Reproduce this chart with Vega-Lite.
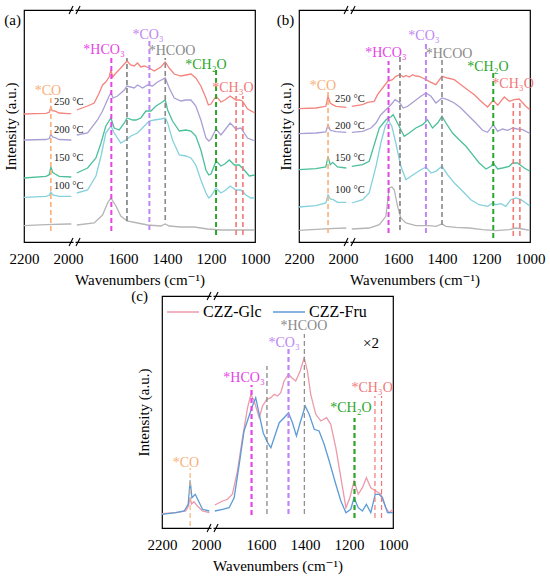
{
  "$schema": "https://vega.github.io/schema/vega-lite/v6.json",
  "background": "white",
  "padding": {"left": 2, "top": 4, "right": 5, "bottom": 2},
  "config": {
    "font": "Liberation Serif, Times New Roman, DejaVu Serif, serif",
    "view": {"stroke": "black", "strokeWidth": 1.2},
    "axisX": {"format": "d", "labelFont": "Liberation Serif, Times New Roman, DejaVu Serif, serif", "titleFont": "Liberation Serif, Times New Roman, DejaVu Serif, serif", "labelFontSize": 15, "labelColor": "black", "labelFlush": false, "labelOverlap": false, "ticks": false, "tickSize": 0, "domain": false, "grid": false, "labelPadding": 9, "titleFontSize": 15, "titleFontWeight": "normal", "titleColor": "black", "titlePadding": 6},
    "axisY": {"labels": false, "titleFont": "Liberation Serif, Times New Roman, DejaVu Serif, serif", "ticks": false, "tickSize": 0, "domain": false, "grid": false, "titleFontSize": 15, "titleFontWeight": "normal", "titleColor": "black", "titlePadding": 6},
    "text": {"font": "Liberation Serif, Times New Roman, DejaVu Serif, serif"},
    "legend": {"labelFont": "Liberation Serif, Times New Roman, DejaVu Serif, serif"}
  },
  "datasets": {
    "a": [
      {"s":"250","g":"L","x":2200,"y":128},{"s":"250","g":"L","x":2150,"y":128.3},{"s":"250","g":"L","x":2100,"y":128.7},{"s":"250","g":"L","x":2085,"y":129.7},{"s":"250","g":"L","x":2078,"y":135},{"s":"250","g":"L","x":2072,"y":131.3},{"s":"250","g":"L","x":2060,"y":131},{"s":"250","g":"L","x":2040,"y":129},{"s":"250","g":"L","x":2000,"y":128.3},{"s":"250","g":"L","x":1985,"y":128.3},
      {"s":"250","g":"R","x":1810,"y":132},{"s":"250","g":"R","x":1761,"y":136},{"s":"250","g":"R","x":1731,"y":139},{"s":"250","g":"R","x":1708,"y":149},{"s":"250","g":"R","x":1693,"y":157},{"s":"250","g":"R","x":1678,"y":160},{"s":"250","g":"R","x":1663,"y":165},{"s":"250","g":"R","x":1655,"y":172},{"s":"250","g":"R","x":1647,"y":165},{"s":"250","g":"R","x":1632,"y":169},{"s":"250","g":"R","x":1610,"y":174},{"s":"250","g":"R","x":1582,"y":181},{"s":"250","g":"R","x":1565,"y":177},{"s":"250","g":"R","x":1549,"y":176},{"s":"250","g":"R","x":1534,"y":179},{"s":"250","g":"R","x":1519,"y":175},{"s":"250","g":"R","x":1503,"y":176},{"s":"250","g":"R","x":1481,"y":174},{"s":"250","g":"R","x":1458,"y":171},{"s":"250","g":"R","x":1428,"y":175},{"s":"250","g":"R","x":1408,"y":180},{"s":"250","g":"R","x":1390,"y":174},{"s":"250","g":"R","x":1367,"y":168},{"s":"250","g":"R","x":1337,"y":166},{"s":"250","g":"R","x":1314,"y":167},{"s":"250","g":"R","x":1291,"y":168},{"s":"250","g":"R","x":1269,"y":164},{"s":"250","g":"R","x":1246,"y":156},{"s":"250","g":"R","x":1223,"y":144},{"s":"250","g":"R","x":1212,"y":137},{"s":"250","g":"R","x":1200,"y":138},{"s":"250","g":"R","x":1177,"y":146},{"s":"250","g":"R","x":1155,"y":140},{"s":"250","g":"R","x":1137,"y":142},{"s":"250","g":"R","x":1113,"y":146},{"s":"250","g":"R","x":1087,"y":142},{"s":"250","g":"R","x":1072,"y":142},{"s":"250","g":"R","x":1057,"y":141},{"s":"250","g":"R","x":1034,"y":133},{"s":"250","g":"R","x":1000,"y":129},
      {"s":"200","g":"L","x":2200,"y":102},{"s":"200","g":"L","x":2100,"y":102.5},{"s":"200","g":"L","x":2085,"y":103.5},{"s":"200","g":"L","x":2078,"y":108},{"s":"200","g":"L","x":2070,"y":105},{"s":"200","g":"L","x":2060,"y":104.5},{"s":"200","g":"L","x":2040,"y":102.5},{"s":"200","g":"L","x":1985,"y":102},
      {"s":"200","g":"R","x":1810,"y":107},{"s":"200","g":"R","x":1761,"y":109},{"s":"200","g":"R","x":1716,"y":122},{"s":"200","g":"R","x":1693,"y":131},{"s":"200","g":"R","x":1663,"y":146},{"s":"200","g":"R","x":1655,"y":149},{"s":"200","g":"R","x":1645,"y":144},{"s":"200","g":"R","x":1625,"y":146},{"s":"200","g":"R","x":1594,"y":152},{"s":"200","g":"R","x":1582,"y":156},{"s":"200","g":"R","x":1549,"y":154},{"s":"200","g":"R","x":1534,"y":157},{"s":"200","g":"R","x":1511,"y":154},{"s":"200","g":"R","x":1488,"y":157},{"s":"200","g":"R","x":1466,"y":156},{"s":"200","g":"R","x":1443,"y":160},{"s":"200","g":"R","x":1408,"y":164},{"s":"200","g":"R","x":1390,"y":154},{"s":"200","g":"R","x":1367,"y":144},{"s":"200","g":"R","x":1337,"y":141},{"s":"200","g":"R","x":1314,"y":142},{"s":"200","g":"R","x":1291,"y":142},{"s":"200","g":"R","x":1269,"y":136},{"s":"200","g":"R","x":1246,"y":122},{"s":"200","g":"R","x":1223,"y":104},{"s":"200","g":"R","x":1210,"y":101},{"s":"200","g":"R","x":1200,"y":103},{"s":"200","g":"R","x":1177,"y":113},{"s":"200","g":"R","x":1155,"y":107},{"s":"200","g":"R","x":1137,"y":112},{"s":"200","g":"R","x":1113,"y":119},{"s":"200","g":"R","x":1087,"y":113},{"s":"200","g":"R","x":1064,"y":114},{"s":"200","g":"R","x":1034,"y":104},{"s":"200","g":"R","x":1000,"y":101},
      {"s":"150","g":"L","x":2200,"y":64},{"s":"150","g":"L","x":2100,"y":65.7},{"s":"150","g":"L","x":2085,"y":67.3},{"s":"150","g":"L","x":2078,"y":75},{"s":"150","g":"L","x":2070,"y":69.7},{"s":"150","g":"L","x":2060,"y":68.3},{"s":"150","g":"L","x":2040,"y":65.7},{"s":"150","g":"L","x":1985,"y":65},
      {"s":"150","g":"R","x":1810,"y":69},{"s":"150","g":"R","x":1761,"y":74},{"s":"150","g":"R","x":1723,"y":84},{"s":"150","g":"R","x":1700,"y":99},{"s":"150","g":"R","x":1678,"y":116},{"s":"150","g":"R","x":1655,"y":124},{"s":"150","g":"R","x":1640,"y":114},{"s":"150","g":"R","x":1617,"y":112},{"s":"150","g":"R","x":1594,"y":119},{"s":"150","g":"R","x":1582,"y":124},{"s":"150","g":"R","x":1556,"y":122},{"s":"150","g":"R","x":1541,"y":122},{"s":"150","g":"R","x":1519,"y":124},{"s":"150","g":"R","x":1496,"y":131},{"s":"150","g":"R","x":1473,"y":131},{"s":"150","g":"R","x":1450,"y":136},{"s":"150","g":"R","x":1428,"y":139},{"s":"150","g":"R","x":1408,"y":142},{"s":"150","g":"R","x":1397,"y":132},{"s":"150","g":"R","x":1375,"y":121},{"s":"150","g":"R","x":1344,"y":111},{"s":"150","g":"R","x":1314,"y":112},{"s":"150","g":"R","x":1291,"y":111},{"s":"150","g":"R","x":1269,"y":106},{"s":"150","g":"R","x":1246,"y":92},{"s":"150","g":"R","x":1223,"y":72},{"s":"150","g":"R","x":1210,"y":67},{"s":"150","g":"R","x":1200,"y":68},{"s":"150","g":"R","x":1177,"y":81},{"s":"150","g":"R","x":1155,"y":76},{"s":"150","g":"R","x":1137,"y":78},{"s":"150","g":"R","x":1117,"y":82},{"s":"150","g":"R","x":1094,"y":77},{"s":"150","g":"R","x":1072,"y":77},{"s":"150","g":"R","x":1049,"y":72},{"s":"150","g":"R","x":1026,"y":66},{"s":"150","g":"R","x":1000,"y":67},
      {"s":"100","g":"L","x":2200,"y":44.7},{"s":"100","g":"L","x":2100,"y":45.7},{"s":"100","g":"L","x":2085,"y":46.7},{"s":"100","g":"L","x":2078,"y":50},{"s":"100","g":"L","x":2070,"y":47.3},{"s":"100","g":"L","x":2060,"y":46.7},{"s":"100","g":"L","x":2040,"y":45.7},{"s":"100","g":"L","x":1985,"y":45.7},
      {"s":"100","g":"R","x":1810,"y":49},{"s":"100","g":"R","x":1761,"y":52},{"s":"100","g":"R","x":1723,"y":66},{"s":"100","g":"R","x":1700,"y":86},{"s":"100","g":"R","x":1678,"y":109},{"s":"100","g":"R","x":1655,"y":116},{"s":"100","g":"R","x":1640,"y":109},{"s":"100","g":"R","x":1610,"y":99},{"s":"100","g":"R","x":1587,"y":102},{"s":"100","g":"R","x":1564,"y":106},{"s":"100","g":"R","x":1534,"y":109},{"s":"100","g":"R","x":1503,"y":116},{"s":"100","g":"R","x":1481,"y":121},{"s":"100","g":"R","x":1458,"y":122},{"s":"100","g":"R","x":1428,"y":123},{"s":"100","g":"R","x":1408,"y":124},{"s":"100","g":"R","x":1397,"y":119},{"s":"100","g":"R","x":1375,"y":102},{"s":"100","g":"R","x":1344,"y":87},{"s":"100","g":"R","x":1314,"y":86},{"s":"100","g":"R","x":1291,"y":84},{"s":"100","g":"R","x":1269,"y":77},{"s":"100","g":"R","x":1246,"y":62},{"s":"100","g":"R","x":1223,"y":49},{"s":"100","g":"R","x":1210,"y":44},{"s":"100","g":"R","x":1200,"y":46},{"s":"100","g":"R","x":1177,"y":54},{"s":"100","g":"R","x":1155,"y":49},{"s":"100","g":"R","x":1132,"y":52},{"s":"100","g":"R","x":1113,"y":56},{"s":"100","g":"R","x":1087,"y":52},{"s":"100","g":"R","x":1064,"y":52},{"s":"100","g":"R","x":1041,"y":47},{"s":"100","g":"R","x":1019,"y":44},{"s":"100","g":"R","x":1000,"y":44},
      {"s":"0","g":"L","x":2200,"y":16.3},{"s":"0","g":"L","x":2100,"y":17.3},{"s":"0","g":"L","x":2000,"y":18},{"s":"0","g":"L","x":1985,"y":18},
      {"s":"0","g":"R","x":1810,"y":17},{"s":"0","g":"R","x":1731,"y":19},{"s":"0","g":"R","x":1693,"y":27},{"s":"0","g":"R","x":1670,"y":39},{"s":"0","g":"R","x":1655,"y":44},{"s":"0","g":"R","x":1632,"y":36},{"s":"0","g":"R","x":1610,"y":26},{"s":"0","g":"R","x":1582,"y":21},{"s":"0","g":"R","x":1534,"y":19},{"s":"0","g":"R","x":1488,"y":17},{"s":"0","g":"R","x":1428,"y":16},{"s":"0","g":"R","x":1408,"y":18},{"s":"0","g":"R","x":1390,"y":16},{"s":"0","g":"R","x":1337,"y":15},{"s":"0","g":"R","x":1276,"y":15},{"s":"0","g":"R","x":1216,"y":13},{"s":"0","g":"R","x":1155,"y":12},{"s":"0","g":"R","x":1094,"y":12},{"s":"0","g":"R","x":1034,"y":12},{"s":"0","g":"R","x":1000,"y":12}
    ],
    "b": [
      {"s":"250","g":"L","x":2200,"y":133.3},{"s":"250","g":"L","x":2123,"y":134},{"s":"250","g":"L","x":2078,"y":135.7},{"s":"250","g":"L","x":2068,"y":145.7},{"s":"250","g":"L","x":2058,"y":139},{"s":"250","g":"L","x":2047,"y":137.3},{"s":"250","g":"L","x":2032,"y":135.7},{"s":"250","g":"L","x":1985,"y":134.7},
      {"s":"250","g":"R","x":1810,"y":135.7},{"s":"250","g":"R","x":1761,"y":137.3},{"s":"250","g":"R","x":1738,"y":139.7},{"s":"250","g":"R","x":1708,"y":140.7},{"s":"250","g":"R","x":1693,"y":147.3},{"s":"250","g":"R","x":1670,"y":154},{"s":"250","g":"R","x":1647,"y":160.7},{"s":"250","g":"R","x":1625,"y":162.3},{"s":"250","g":"R","x":1610,"y":165.7},{"s":"250","g":"R","x":1591,"y":167.3},{"s":"250","g":"R","x":1575,"y":165},{"s":"250","g":"R","x":1564,"y":166.5},{"s":"250","g":"R","x":1549,"y":165},{"s":"250","g":"R","x":1534,"y":167.3},{"s":"250","g":"R","x":1519,"y":166},{"s":"250","g":"R","x":1503,"y":165.7},{"s":"250","g":"R","x":1488,"y":164},{"s":"250","g":"R","x":1473,"y":162.3},{"s":"250","g":"R","x":1450,"y":159.7},{"s":"250","g":"R","x":1428,"y":157.3},{"s":"250","g":"R","x":1400,"y":165.7},{"s":"250","g":"R","x":1375,"y":164},{"s":"250","g":"R","x":1344,"y":162.3},{"s":"250","g":"R","x":1314,"y":157.3},{"s":"250","g":"R","x":1284,"y":152.3},{"s":"250","g":"R","x":1253,"y":147.3},{"s":"250","g":"R","x":1223,"y":140.7},{"s":"250","g":"R","x":1193,"y":135},{"s":"250","g":"R","x":1167,"y":141.7},{"s":"250","g":"R","x":1147,"y":136.7},{"s":"250","g":"R","x":1117,"y":145},{"s":"250","g":"R","x":1094,"y":140.7},{"s":"250","g":"R","x":1072,"y":142.3},{"s":"250","g":"R","x":1049,"y":143},{"s":"250","g":"R","x":1019,"y":135.7},{"s":"250","g":"R","x":1000,"y":132.3},
      {"s":"200","g":"L","x":2200,"y":108.3},{"s":"200","g":"L","x":2123,"y":109},{"s":"200","g":"L","x":2078,"y":110},{"s":"200","g":"L","x":2068,"y":117.3},{"s":"200","g":"L","x":2058,"y":111.7},{"s":"200","g":"L","x":2032,"y":110.3},{"s":"200","g":"L","x":1985,"y":109.7},
      {"s":"200","g":"R","x":1810,"y":109.7},{"s":"200","g":"R","x":1761,"y":110.7},{"s":"200","g":"R","x":1723,"y":114},{"s":"200","g":"R","x":1700,"y":119},{"s":"200","g":"R","x":1678,"y":127.3},{"s":"200","g":"R","x":1655,"y":132.3},{"s":"200","g":"R","x":1632,"y":137.3},{"s":"200","g":"R","x":1613,"y":142.3},{"s":"200","g":"R","x":1594,"y":139.7},{"s":"200","g":"R","x":1576,"y":134},{"s":"200","g":"R","x":1556,"y":135.7},{"s":"200","g":"R","x":1526,"y":140.7},{"s":"200","g":"R","x":1496,"y":145.7},{"s":"200","g":"R","x":1473,"y":149},{"s":"200","g":"R","x":1450,"y":145.7},{"s":"200","g":"R","x":1428,"y":139},{"s":"200","g":"R","x":1400,"y":144},{"s":"200","g":"R","x":1375,"y":142.3},{"s":"200","g":"R","x":1344,"y":139},{"s":"200","g":"R","x":1314,"y":134},{"s":"200","g":"R","x":1284,"y":127.3},{"s":"200","g":"R","x":1246,"y":119},{"s":"200","g":"R","x":1216,"y":111.7},{"s":"200","g":"R","x":1193,"y":109.7},{"s":"200","g":"R","x":1167,"y":117.3},{"s":"200","g":"R","x":1147,"y":110.7},{"s":"200","g":"R","x":1125,"y":113},{"s":"200","g":"R","x":1102,"y":111.7},{"s":"200","g":"R","x":1079,"y":114},{"s":"200","g":"R","x":1057,"y":113},{"s":"200","g":"R","x":1034,"y":112.3},{"s":"200","g":"R","x":1004,"y":109},{"s":"200","g":"R","x":1000,"y":108.3},
      {"s":"150","g":"L","x":2200,"y":72.3},{"s":"150","g":"L","x":2123,"y":73.3},{"s":"150","g":"L","x":2078,"y":75},{"s":"150","g":"L","x":2068,"y":85.7},{"s":"150","g":"L","x":2058,"y":77.3},{"s":"150","g":"L","x":2047,"y":79.7},{"s":"150","g":"L","x":2025,"y":75},{"s":"150","g":"L","x":1985,"y":74},
      {"s":"150","g":"R","x":1810,"y":75.7},{"s":"150","g":"R","x":1761,"y":77.3},{"s":"150","g":"R","x":1731,"y":80.7},{"s":"150","g":"R","x":1708,"y":97.3},{"s":"150","g":"R","x":1685,"y":114},{"s":"150","g":"R","x":1667,"y":119},{"s":"150","g":"R","x":1647,"y":124},{"s":"150","g":"R","x":1632,"y":125},{"s":"150","g":"R","x":1622,"y":127.3},{"s":"150","g":"R","x":1610,"y":122.3},{"s":"150","g":"R","x":1591,"y":114},{"s":"150","g":"R","x":1572,"y":105.7},{"s":"150","g":"R","x":1549,"y":109},{"s":"150","g":"R","x":1519,"y":114},{"s":"150","g":"R","x":1488,"y":117.3},{"s":"150","g":"R","x":1466,"y":122.3},{"s":"150","g":"R","x":1443,"y":114},{"s":"150","g":"R","x":1420,"y":119},{"s":"150","g":"R","x":1400,"y":125.7},{"s":"150","g":"R","x":1382,"y":119},{"s":"150","g":"R","x":1352,"y":109},{"s":"150","g":"R","x":1322,"y":102.3},{"s":"150","g":"R","x":1291,"y":95.7},{"s":"150","g":"R","x":1261,"y":87.3},{"s":"150","g":"R","x":1231,"y":79},{"s":"150","g":"R","x":1200,"y":73},{"s":"150","g":"R","x":1178,"y":75.7},{"s":"150","g":"R","x":1167,"y":79},{"s":"150","g":"R","x":1147,"y":73},{"s":"150","g":"R","x":1125,"y":74},{"s":"150","g":"R","x":1094,"y":75.7},{"s":"150","g":"R","x":1079,"y":79},{"s":"150","g":"R","x":1057,"y":79},{"s":"150","g":"R","x":1026,"y":74},{"s":"150","g":"R","x":1000,"y":70.7},
      {"s":"100","g":"L","x":2200,"y":35},{"s":"100","g":"L","x":2123,"y":36.3},{"s":"100","g":"L","x":2078,"y":39},{"s":"100","g":"L","x":2068,"y":47.3},{"s":"100","g":"L","x":2058,"y":43},{"s":"100","g":"L","x":2044,"y":42.3},{"s":"100","g":"L","x":2025,"y":39.7},{"s":"100","g":"L","x":1985,"y":39.7},
      {"s":"100","g":"R","x":1810,"y":39},{"s":"100","g":"R","x":1761,"y":42.3},{"s":"100","g":"R","x":1731,"y":49},{"s":"100","g":"R","x":1700,"y":75.7},{"s":"100","g":"R","x":1678,"y":99},{"s":"100","g":"R","x":1658,"y":115.7},{"s":"100","g":"R","x":1643,"y":121.7},{"s":"100","g":"R","x":1628,"y":115.7},{"s":"100","g":"R","x":1610,"y":99},{"s":"100","g":"R","x":1587,"y":75.7},{"s":"100","g":"R","x":1564,"y":62.3},{"s":"100","g":"R","x":1541,"y":65.7},{"s":"100","g":"R","x":1519,"y":69},{"s":"100","g":"R","x":1496,"y":72.3},{"s":"100","g":"R","x":1473,"y":75},{"s":"100","g":"R","x":1450,"y":69},{"s":"100","g":"R","x":1428,"y":70.7},{"s":"100","g":"R","x":1400,"y":75.7},{"s":"100","g":"R","x":1375,"y":67.3},{"s":"100","g":"R","x":1344,"y":59},{"s":"100","g":"R","x":1306,"y":50.7},{"s":"100","g":"R","x":1269,"y":42.3},{"s":"100","g":"R","x":1231,"y":37.3},{"s":"100","g":"R","x":1193,"y":35.7},{"s":"100","g":"R","x":1170,"y":39},{"s":"100","g":"R","x":1155,"y":37.3},{"s":"100","g":"R","x":1132,"y":38.3},{"s":"100","g":"R","x":1110,"y":35.7},{"s":"100","g":"R","x":1087,"y":42.3},{"s":"100","g":"R","x":1064,"y":44},{"s":"100","g":"R","x":1041,"y":42.3},{"s":"100","g":"R","x":1019,"y":39},{"s":"100","g":"R","x":1000,"y":35.7},
      {"s":"0","g":"L","x":2200,"y":11.7},{"s":"0","g":"L","x":2062,"y":13.3},{"s":"0","g":"L","x":1985,"y":14},
      {"s":"0","g":"R","x":1810,"y":13},{"s":"0","g":"R","x":1731,"y":14},{"s":"0","g":"R","x":1685,"y":17.3},{"s":"0","g":"R","x":1655,"y":25.7},{"s":"0","g":"R","x":1640,"y":54},{"s":"0","g":"R","x":1628,"y":55},{"s":"0","g":"R","x":1617,"y":52.3},{"s":"0","g":"R","x":1602,"y":35.7},{"s":"0","g":"R","x":1587,"y":24},{"s":"0","g":"R","x":1564,"y":19},{"s":"0","g":"R","x":1519,"y":16.3},{"s":"0","g":"R","x":1458,"y":16.3},{"s":"0","g":"R","x":1428,"y":15.7},{"s":"0","g":"R","x":1400,"y":18},{"s":"0","g":"R","x":1382,"y":15.7},{"s":"0","g":"R","x":1337,"y":14.7},{"s":"0","g":"R","x":1276,"y":14},{"s":"0","g":"R","x":1216,"y":12.3},{"s":"0","g":"R","x":1155,"y":11.3},{"s":"0","g":"R","x":1094,"y":12.3},{"s":"0","g":"R","x":1064,"y":14},{"s":"0","g":"R","x":1034,"y":13},{"s":"0","g":"R","x":1000,"y":11.7}
    ],
    "c": [
      {"s":"CZZ-Glc","g":"L","x":2200,"y":14.3},{"s":"CZZ-Glc","g":"L","x":2137,"y":15.3},{"s":"CZZ-Glc","g":"L","x":2092,"y":17},{"s":"CZZ-Glc","g":"L","x":2080,"y":22},{"s":"CZZ-Glc","g":"L","x":2072,"y":30},{"s":"CZZ-Glc","g":"L","x":2066,"y":24},{"s":"CZZ-Glc","g":"L","x":2055,"y":26.3},{"s":"CZZ-Glc","g":"L","x":2039,"y":22},{"s":"CZZ-Glc","g":"L","x":2016,"y":17},{"s":"CZZ-Glc","g":"L","x":1985,"y":15.3},
      {"s":"CZZ-Glc","g":"R","x":1810,"y":23},{"s":"CZZ-Glc","g":"R","x":1775,"y":27},{"s":"CZZ-Glc","g":"R","x":1752,"y":28.7},{"s":"CZZ-Glc","g":"R","x":1730,"y":33.7},{"s":"CZZ-Glc","g":"R","x":1707,"y":57},{"s":"CZZ-Glc","g":"R","x":1684,"y":90.3},{"s":"CZZ-Glc","g":"R","x":1661,"y":120.3},{"s":"CZZ-Glc","g":"R","x":1646,"y":133.7},{"s":"CZZ-Glc","g":"R","x":1631,"y":127},{"s":"CZZ-Glc","g":"R","x":1608,"y":110.3},{"s":"CZZ-Glc","g":"R","x":1593,"y":122},{"s":"CZZ-Glc","g":"R","x":1573,"y":128.7},{"s":"CZZ-Glc","g":"R","x":1555,"y":130.3},{"s":"CZZ-Glc","g":"R","x":1540,"y":133.7},{"s":"CZZ-Glc","g":"R","x":1525,"y":132},{"s":"CZZ-Glc","g":"R","x":1510,"y":135.3},{"s":"CZZ-Glc","g":"R","x":1495,"y":147},{"s":"CZZ-Glc","g":"R","x":1475,"y":153.7},{"s":"CZZ-Glc","g":"R","x":1460,"y":150.3},{"s":"CZZ-Glc","g":"R","x":1442,"y":147},{"s":"CZZ-Glc","g":"R","x":1422,"y":157},{"s":"CZZ-Glc","g":"R","x":1404,"y":170.3},{"s":"CZZ-Glc","g":"R","x":1389,"y":157},{"s":"CZZ-Glc","g":"R","x":1374,"y":133.7},{"s":"CZZ-Glc","g":"R","x":1351,"y":113.7},{"s":"CZZ-Glc","g":"R","x":1328,"y":107},{"s":"CZZ-Glc","g":"R","x":1302,"y":110.3},{"s":"CZZ-Glc","g":"R","x":1283,"y":103.7},{"s":"CZZ-Glc","g":"R","x":1260,"y":80.3},{"s":"CZZ-Glc","g":"R","x":1237,"y":50.3},{"s":"CZZ-Glc","g":"R","x":1214,"y":20.3},{"s":"CZZ-Glc","g":"R","x":1196,"y":30.3},{"s":"CZZ-Glc","g":"R","x":1177,"y":47},{"s":"CZZ-Glc","g":"R","x":1158,"y":33.7},{"s":"CZZ-Glc","g":"R","x":1139,"y":40.3},{"s":"CZZ-Glc","g":"R","x":1121,"y":50.3},{"s":"CZZ-Glc","g":"R","x":1101,"y":40.3},{"s":"CZZ-Glc","g":"R","x":1078,"y":37},{"s":"CZZ-Glc","g":"R","x":1055,"y":33.7},{"s":"CZZ-Glc","g":"R","x":1033,"y":20.3},{"s":"CZZ-Glc","g":"R","x":1018,"y":15.3},{"s":"CZZ-Glc","g":"R","x":1000,"y":18.7},
      {"s":"CZZ-Fru","g":"L","x":2200,"y":13.7},{"s":"CZZ-Fru","g":"L","x":2137,"y":15.3},{"s":"CZZ-Fru","g":"L","x":2099,"y":17},{"s":"CZZ-Fru","g":"L","x":2081,"y":23.7},{"s":"CZZ-Fru","g":"L","x":2072,"y":47.7},{"s":"CZZ-Fru","g":"L","x":2064,"y":30.3},{"s":"CZZ-Fru","g":"L","x":2049,"y":33.7},{"s":"CZZ-Fru","g":"L","x":2034,"y":27},{"s":"CZZ-Fru","g":"L","x":2016,"y":18.7},{"s":"CZZ-Fru","g":"L","x":1985,"y":17},
      {"s":"CZZ-Fru","g":"R","x":1810,"y":17},{"s":"CZZ-Fru","g":"R","x":1775,"y":18.7},{"s":"CZZ-Fru","g":"R","x":1745,"y":20.3},{"s":"CZZ-Fru","g":"R","x":1722,"y":30.3},{"s":"CZZ-Fru","g":"R","x":1699,"y":63.7},{"s":"CZZ-Fru","g":"R","x":1677,"y":97},{"s":"CZZ-Fru","g":"R","x":1657,"y":110.3},{"s":"CZZ-Fru","g":"R","x":1639,"y":122},{"s":"CZZ-Fru","g":"R","x":1624,"y":130.3},{"s":"CZZ-Fru","g":"R","x":1608,"y":113.7},{"s":"CZZ-Fru","g":"R","x":1590,"y":95.3},{"s":"CZZ-Fru","g":"R","x":1570,"y":85.3},{"s":"CZZ-Fru","g":"R","x":1555,"y":80.3},{"s":"CZZ-Fru","g":"R","x":1540,"y":90.3},{"s":"CZZ-Fru","g":"R","x":1517,"y":105.3},{"s":"CZZ-Fru","g":"R","x":1495,"y":110.3},{"s":"CZZ-Fru","g":"R","x":1475,"y":115.3},{"s":"CZZ-Fru","g":"R","x":1457,"y":105.3},{"s":"CZZ-Fru","g":"R","x":1439,"y":92},{"s":"CZZ-Fru","g":"R","x":1422,"y":105.3},{"s":"CZZ-Fru","g":"R","x":1399,"y":122},{"s":"CZZ-Fru","g":"R","x":1381,"y":113.7},{"s":"CZZ-Fru","g":"R","x":1358,"y":98.7},{"s":"CZZ-Fru","g":"R","x":1336,"y":97},{"s":"CZZ-Fru","g":"R","x":1313,"y":83.7},{"s":"CZZ-Fru","g":"R","x":1290,"y":67},{"s":"CZZ-Fru","g":"R","x":1260,"y":43.7},{"s":"CZZ-Fru","g":"R","x":1237,"y":27},{"s":"CZZ-Fru","g":"R","x":1214,"y":15.3},{"s":"CZZ-Fru","g":"R","x":1192,"y":18.7},{"s":"CZZ-Fru","g":"R","x":1177,"y":30.3},{"s":"CZZ-Fru","g":"R","x":1158,"y":20.3},{"s":"CZZ-Fru","g":"R","x":1139,"y":17},{"s":"CZZ-Fru","g":"R","x":1121,"y":23.7},{"s":"CZZ-Fru","g":"R","x":1101,"y":15.3},{"s":"CZZ-Fru","g":"R","x":1081,"y":33.7},{"s":"CZZ-Fru","g":"R","x":1063,"y":33.7},{"s":"CZZ-Fru","g":"R","x":1048,"y":30.3},{"s":"CZZ-Fru","g":"R","x":1025,"y":15.3},{"s":"CZZ-Fru","g":"R","x":1000,"y":15.3}
    ],
    "ma": [
      {"k":"CO","x":2078,"y":11,"y2":148},{"k":"HCO3","x":1653,"y":11,"y2":185},{"k":"g","x":1582,"y":21,"y2":184},{"k":"CO3","x":1480,"y":12,"y2":202},{"k":"HCOO","x":1408,"y":22,"y2":184},{"k":"CH2O","x":1177,"y":7,"y2":172},{"k":"CH3O","x":1086,"y":7,"y2":146},{"k":"CH3O","x":1055,"y":7,"y2":146}
    ],
    "mb": [
      {"k":"CO","x":2068,"y":9,"y2":151},{"k":"HCO3","x":1643,"y":9,"y2":181},{"k":"g","x":1591,"y":12,"y2":186},{"k":"CO3","x":1473,"y":9,"y2":201},{"k":"HCOO","x":1400,"y":17,"y2":184},{"k":"CH2O","x":1167,"y":4,"y2":171},{"k":"CH3O","x":1076,"y":6,"y2":142},{"k":"CH3O","x":1046,"y":6,"y2":142}
    ],
    "mc": [
      {"k":"CO","x":2072,"y":2,"y2":60},{"k":"HCO3","x":1643,"y":13,"y2":143},{"k":"g","x":1573,"y":14,"y2":162},{"k":"CO3","x":1475,"y":14,"y2":179},{"k":"HCOO","x":1403,"y":14,"y2":194},{"k":"CH2O","x":1175,"y":10,"y2":110},{"k":"CH3O","x":1082,"y":10,"y2":132},{"k":"CH3O","x":1052,"y":10,"y2":132}
    ],
    "la": [
      {"k":"CO","t":"*CO","x":2091,"y":151},{"k":"HCO3","t":"*HCO₃","x":1686,"y":192},{"k":"CO3","t":"*CO₃","x":1486,"y":207},{"k":"HCOO","t":"*HCOO","x":1377,"y":191},{"k":"CH2O","t":"*CH₂O","x":1223,"y":177},{"k":"CH3O","t":"*CH₃O","x":1100,"y":154}
    ],
    "lb": [
      {"k":"CO","t":"*CO","x":2091,"y":156},{"k":"HCO3","t":"*HCO₃","x":1655,"y":189},{"k":"CO3","t":"*CO₃","x":1482,"y":206},{"k":"HCOO","t":"*HCOO","x":1368,"y":188},{"k":"CH2O","t":"*CH₂O","x":1191,"y":175},{"k":"CH3O","t":"*CH₃O","x":1077,"y":158}
    ],
    "lc": [
      {"k":"CO","t":"*CO","x":2091,"y":65},{"k":"HCO3","t":"*HCO₃","x":1677,"y":150},{"k":"CO3","t":"*CO₃","x":1495,"y":185},{"k":"HCOO","t":"*HCOO","x":1405,"y":202},{"k":"CH2O","t":"*CH₂O","x":1191,"y":120},{"k":"CH3O","t":"*CH₃O","x":1095,"y":140}
    ],
    "ta": [
      {"t":"250 °C","x":2064,"y":140},{"t":"200 °C","x":2064,"y":112},{"t":"150 °C","x":2064,"y":84},{"t":"100 °C","x":2064,"y":56}
    ],
    "tb": [
      {"t":"250 °C","x":2036,"y":143},{"t":"200 °C","x":2036,"y":116},{"t":"150 °C","x":2036,"y":84},{"t":"100 °C","x":2036,"y":52}
    ],
    "tk": [{"x":2100},{"x":1700},{"x":1500},{"x":1300},{"x":1100}],
    "bw": [{"x":1937,"x2":1860,"y":-2.5,"y2":2.5},{"x":1937,"x2":1860,"y":229.5,"y2":234.5}],
    "bs": [{"x":1995,"x2":1957,"y":-4,"y2":4},{"x":1841,"x2":1795,"y":-4,"y2":4},{"x":1995,"x2":1957,"y":228,"y2":236},{"x":1841,"x2":1795,"y":228,"y2":236}]
  },
  "vconcat": [
    {
      "hconcat": [
        {
          "width": 231, "height": 232,
          "resolve": {"scale": {"color": "independent"}},
          "encoding": {
            "x": {"field": "x", "type": "quantitative", "title": "Wavenumbers (cm⁻¹)", "scale": {"domain": [2200, 1980, 1810, 1000], "range": [0, 48.4, 52.8, 231], "nice": false, "zero": false}, "axis": {"values": [2200, 2000, 1600, 1400, 1200, 1000]}},
            "y": {"field": "y", "type": "quantitative", "title": "Intensity (a.u.)", "scale": {"domain": [0, 232], "nice": false, "zero": false}}
          },
          "layer": [
            {"data": {"name": "bw"}, "mark": {"type": "rect", "fill": "white"}, "encoding": {"x2": {"field": "x2"}, "y2": {"field": "y2"}}},
            {"data": {"name": "bs"}, "mark": {"type": "rule", "color": "black", "strokeWidth": 1.1}, "encoding": {"x2": {"field": "x2"}, "y2": {"field": "y2"}}},
            {"data": {"name": "tk"}, "mark": {"type": "rule", "color": "black", "strokeWidth": 1}, "encoding": {"y": {"datum": 0, "title": "Intensity (a.u.)"}, "y2": {"datum": 3.5}}},
            {"data": {"name": "a"}, "mark": {"type": "line", "strokeWidth": 1.3}, "encoding": {"color": {"field": "s", "type": "nominal", "scale": {"domain": ["250", "200", "150", "100", "0"], "range": ["#f4847e", "#aa9fd5", "#4cbf9b", "#85d1dc", "#b5b5b5"]}, "legend": null}, "detail": {"field": "g"}}},
            {"data": {"name": "ma"}, "transform": [{"filter": "indexof(['HCO3','CH2O','CO3'], datum.k) >= 0"}], "mark": {"type": "rule", "strokeDash": [5, 3], "strokeWidth": 2}, "encoding": {"y2": {"field": "y2"}, "color": {"field": "k", "type": "nominal", "scale": {"domain": ["CO", "HCO3", "g", "CO3", "HCOO", "CH2O", "CH3O"], "range": ["#f7b07a", "#e445e4", "#7f7f7f", "#c086f3", "#8a8a8a", "#2aa52a", "#f27878"]}, "legend": null}}},
            {"data": {"name": "ma"}, "transform": [{"filter": "indexof(['HCO3','CH2O','CO3'], datum.k) < 0"}], "mark": {"type": "rule", "strokeDash": [5, 3], "strokeWidth": 1.6}, "encoding": {"y2": {"field": "y2"}, "color": {"field": "k", "type": "nominal", "scale": {"domain": ["CO", "HCO3", "g", "CO3", "HCOO", "CH2O", "CH3O"], "range": ["#f7b07a", "#e445e4", "#7f7f7f", "#c086f3", "#8a8a8a", "#2aa52a", "#f27878"]}, "legend": null}}},
            {"data": {"name": "la"}, "mark": {"type": "text", "fontSize": 14, "baseline": "middle"}, "encoding": {"text": {"field": "t"}, "color": {"field": "k", "type": "nominal", "scale": {"domain": ["CO", "HCO3", "g", "CO3", "HCOO", "CH2O", "CH3O"], "range": ["#f7b07a", "#e445e4", "#7f7f7f", "#c086f3", "#8a8a8a", "#2aa52a", "#f27878"]}, "legend": null}}},
            {"data": {"name": "ta"}, "mark": {"type": "text", "fontSize": 10.5, "align": "left", "baseline": "middle", "color": "#222222"}, "encoding": {"text": {"field": "t"}}},
            {"data": {"values": [{"x": 2252, "y": 222, "t": "(a)"}]}, "mark": {"type": "text", "fontSize": 15, "baseline": "middle", "color": "black"}, "encoding": {"text": {"field": "t"}}}
          ]
        },
        {
          "width": 231, "height": 232,
          "resolve": {"scale": {"color": "independent"}},
          "encoding": {
            "x": {"field": "x", "type": "quantitative", "title": "Wavenumbers (cm⁻¹)", "scale": {"domain": [2200, 1980, 1810, 1000], "range": [0, 48.4, 52.8, 231], "nice": false, "zero": false}, "axis": {"values": [2200, 2000, 1600, 1400, 1200, 1000]}},
            "y": {"field": "y", "type": "quantitative", "title": "Intensity (a.u.)", "scale": {"domain": [0, 232], "nice": false, "zero": false}}
          },
          "layer": [
            {"data": {"name": "bw"}, "mark": {"type": "rect", "fill": "white"}, "encoding": {"x2": {"field": "x2"}, "y2": {"field": "y2"}}},
            {"data": {"name": "bs"}, "mark": {"type": "rule", "color": "black", "strokeWidth": 1.1}, "encoding": {"x2": {"field": "x2"}, "y2": {"field": "y2"}}},
            {"data": {"name": "tk"}, "mark": {"type": "rule", "color": "black", "strokeWidth": 1}, "encoding": {"y": {"datum": 0, "title": "Intensity (a.u.)"}, "y2": {"datum": 3.5}}},
            {"data": {"name": "b"}, "mark": {"type": "line", "strokeWidth": 1.3}, "encoding": {"color": {"field": "s", "type": "nominal", "scale": {"domain": ["250", "200", "150", "100", "0"], "range": ["#f4847e", "#aa9fd5", "#4cbf9b", "#85d1dc", "#b5b5b5"]}, "legend": null}, "detail": {"field": "g"}}},
            {"data": {"name": "mb"}, "transform": [{"filter": "indexof(['HCO3','CH2O','CO3'], datum.k) >= 0"}], "mark": {"type": "rule", "strokeDash": [5, 3], "strokeWidth": 2}, "encoding": {"y2": {"field": "y2"}, "color": {"field": "k", "type": "nominal", "scale": {"domain": ["CO", "HCO3", "g", "CO3", "HCOO", "CH2O", "CH3O"], "range": ["#f7b07a", "#e445e4", "#7f7f7f", "#c086f3", "#8a8a8a", "#2aa52a", "#f27878"]}, "legend": null}}},
            {"data": {"name": "mb"}, "transform": [{"filter": "indexof(['HCO3','CH2O','CO3'], datum.k) < 0"}], "mark": {"type": "rule", "strokeDash": [5, 3], "strokeWidth": 1.6}, "encoding": {"y2": {"field": "y2"}, "color": {"field": "k", "type": "nominal", "scale": {"domain": ["CO", "HCO3", "g", "CO3", "HCOO", "CH2O", "CH3O"], "range": ["#f7b07a", "#e445e4", "#7f7f7f", "#c086f3", "#8a8a8a", "#2aa52a", "#f27878"]}, "legend": null}}},
            {"data": {"name": "lb"}, "mark": {"type": "text", "fontSize": 14, "baseline": "middle"}, "encoding": {"text": {"field": "t"}, "color": {"field": "k", "type": "nominal", "scale": {"domain": ["CO", "HCO3", "g", "CO3", "HCOO", "CH2O", "CH3O"], "range": ["#f7b07a", "#e445e4", "#7f7f7f", "#c086f3", "#8a8a8a", "#2aa52a", "#f27878"]}, "legend": null}}},
            {"data": {"name": "tb"}, "mark": {"type": "text", "fontSize": 10.5, "align": "left", "baseline": "middle", "color": "#222222"}, "encoding": {"text": {"field": "t"}}},
            {"data": {"values": [{"x": 2261, "y": 222, "t": "(b)"}]}, "mark": {"type": "text", "fontSize": 15, "baseline": "middle", "color": "black"}, "encoding": {"text": {"field": "t"}}}
          ]
        }
      ],
      "spacing": 44,
      "bounds": "flush"
    },
    {
      "hconcat": [
        {"width": 86, "height": 10, "view": {"stroke": null}, "data": {"values": [{"v": 0}]}, "mark": {"type": "point", "opacity": 0}},
        {
          "width": 231, "height": 232,
          "resolve": {"scale": {"color": "independent"}},
          "encoding": {
            "x": {"field": "x", "type": "quantitative", "title": "Wavenumbers (cm⁻¹)", "scale": {"domain": [2200, 1980, 1810, 1000], "range": [0, 48.4, 52.8, 231], "nice": false, "zero": false}, "axis": {"values": [2200, 2000, 1600, 1400, 1200, 1000]}},
            "y": {"field": "y", "type": "quantitative", "title": "Intensity (a.u.)", "scale": {"domain": [0, 232], "nice": false, "zero": false}, "axis": {"titlePadding": 11}}
          },
          "layer": [
            {"data": {"name": "bw"}, "mark": {"type": "rect", "fill": "white"}, "encoding": {"x2": {"field": "x2"}, "y2": {"field": "y2"}}},
            {"data": {"name": "bs"}, "mark": {"type": "rule", "color": "black", "strokeWidth": 1.1}, "encoding": {"x2": {"field": "x2"}, "y2": {"field": "y2"}}},
            {"data": {"name": "tk"}, "mark": {"type": "rule", "color": "black", "strokeWidth": 1}, "encoding": {"y": {"datum": 0, "title": "Intensity (a.u.)", "axis": {"titlePadding": 11}}, "y2": {"datum": 3.5}}},
            {"data": {"name": "c"}, "mark": {"type": "line", "strokeWidth": 1.3}, "encoding": {"color": {"field": "s", "type": "nominal", "scale": {"domain": ["CZZ-Glc", "CZZ-Fru"], "range": ["#ec9aab", "#5c9bd6"]}, "legend": {"orient": "none", "legendX": 4, "legendY": -1, "direction": "horizontal", "title": null, "symbolType": "stroke", "symbolSize": 1024, "symbolStrokeWidth": 1.5, "labelFontSize": 16, "labelColor": "black", "columnPadding": 8, "labelOffset": 3, "padding": 0}}, "detail": {"field": "g"}}},
            {"data": {"name": "mc"}, "transform": [{"filter": "indexof(['HCO3','CH2O','CO3'], datum.k) >= 0"}], "mark": {"type": "rule", "strokeDash": [5, 3], "strokeWidth": 2.2}, "encoding": {"y2": {"field": "y2"}, "color": {"field": "k", "type": "nominal", "scale": {"domain": ["CO", "HCO3", "g", "CO3", "HCOO", "CH2O", "CH3O"], "range": ["#f7b07a", "#e445e4", "#7f7f7f", "#c086f3", "#8a8a8a", "#2aa52a", "#f27878"]}, "legend": null}}},
            {"data": {"name": "mc"}, "transform": [{"filter": "indexof(['HCO3','CH2O','CO3'], datum.k) < 0"}], "mark": {"type": "rule", "strokeDash": [5, 3], "strokeWidth": 1.2}, "encoding": {"y2": {"field": "y2"}, "color": {"field": "k", "type": "nominal", "scale": {"domain": ["CO", "HCO3", "g", "CO3", "HCOO", "CH2O", "CH3O"], "range": ["#f7b07a", "#e445e4", "#7f7f7f", "#c086f3", "#8a8a8a", "#2aa52a", "#f27878"]}, "legend": null}}},
            {"data": {"name": "lc"}, "mark": {"type": "text", "fontSize": 14, "baseline": "middle"}, "encoding": {"text": {"field": "t"}, "color": {"field": "k", "type": "nominal", "scale": {"domain": ["CO", "HCO3", "g", "CO3", "HCOO", "CH2O", "CH3O"], "range": ["#f7b07a", "#e445e4", "#7f7f7f", "#c086f3", "#8a8a8a", "#2aa52a", "#f27878"]}, "legend": null}}},
            {"data": {"values": [{"x": 2302, "y": 232, "t": "(c)"}, {"x": 1100, "y": 185, "t": "×2"}]}, "mark": {"type": "text", "fontSize": 15, "baseline": "middle", "color": "black"}, "encoding": {"text": {"field": "t"}}}
          ]
        }
      ],
      "spacing": 20
    }
  ],
  "spacing": 0
}
